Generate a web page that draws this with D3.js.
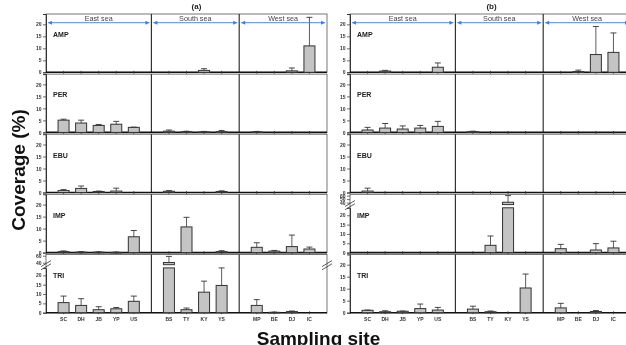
<!DOCTYPE html>
<html><head><meta charset="utf-8">
<script src="https://cdn.jsdelivr.net/npm/d3@7"></script>
<style>body{margin:0;background:#fff}svg{display:block;will-change:transform}text{font-family:"Liberation Sans",Arial,sans-serif}</style>
</head><body><div id="chart"></div>
<script>
// ---------------- DATA ----------------
const eastSites  = ["SC","DH","JB","YP","US"];
const southSites = ["BS","TY","KY","YS"];
const westSites  = ["MP","BE","DJ","IC"];
const regionNames = ["East sea","South sea","West sea"];
const taxa = ["AMP","PER","EBU","IMP","TRI"];
const yTicks = [0,5,10,15,20];
const brokenUpperTicksA = [40,60];
const brokenUpperTicksB = [40,50,60];

// panel (a) means / SD  (order: SC DH JB YP US | BS TY KY YS | MP BE DJ IC)
const ampA = [0,0,0,0,0, 0,0,0.8,0, 0,0,0.6,11.0];
const ampAsd = [0,0,0,0,0, 0,0,0.7,0, 0,0,1.2,11.9];
const perA = [5.1,3.9,2.9,3.4,2.1, 0.5,0.3,0.2,0.3, 0.2,0,0,0];
const perAsd = [0.4,1.2,0.4,1.2,0.1, 0.5,0.2,0.2,0.5, 0.2,0,0,0];
const ebuA = [0.8,1.7,0.4,0.6,0, 0.5,0,0,0.4, 0,0,0,0];
const ebuAsd = [0.4,1.0,0.2,1.2,0, 0.3,0,0,0.3, 0,0,0,0];
const impA = [0.4,0.2,0.2,0.1,6.6, 0,10.7,0,0.4, 2.2,0.6,2.5,1.5];
const impAsd = [0.3,0.2,0.1,0.1,2.6, 0,4.0,0,0.4, 1.9,0.3,4.8,0.8];
const triA = [5.4,3.9,1.6,2.1,6.1, 40.5,1.6,11.0,14.6, 3.9,0.2,0.6,0];
const triAsd = [3.5,3.6,1.6,0.7,2.8, 17.5,0.9,5.9,9.4, 3.1,0.1,0.3,0];

// panel (b)
const ampB = [0,0.5,0,0,2.1, 0,0,0,0, 0,0.3,7.4,8.3];
const ampBsd = [0,0.3,0,0,1.8, 0,0,0,0, 0,0.6,11.7,8.1];
const perB = [1.0,1.8,1.4,1.8,2.5, 0.3,0,0,0, 0,0,0,0];
const perBsd = [1.1,1.9,1.3,1.1,2.1, 0.2,0,0,0, 0,0,0,0];
const ebuB = [0.6,0,0,0,0, 0,0,0,0, 0,0,0,0];
const ebuBsd = [1.2,0,0,0,0, 0,0,0,0, 0,0,0,0];
const impB = [0,0,0,0,0, 0,3.9,41,0, 2.1,0,1.4,2.5];
const impBsd = [0,0,0,0,0, 0,5.0,19,0, 2.3,0,3.4,3.6];
const triB = [1.0,0.4,0.6,1.7,1.1, 1.5,0.4,0,10.3, 2.0,0,0.5,0];
const triBsd = [0.1,0.4,0.1,1.9,1.1, 1.2,0.3,0,5.8, 1.9,0,0.4,0];

// ---------------- LAYOUT ----------------
const W = 626, H = 345;
const svg = d3.select("#chart").append("svg").attr("width", W).attr("height", H);

const regions = [eastSites, southSites, westSites];
const sitePos = [], siteNames = [], dividers = [];
let p = 0;
regions.forEach((r, ri) => {
  r.forEach(s => { p++; sitePos.push(p); siteNames.push(s); });
  p++;
  dividers.push(p);
});
const xMax = p; // 16

const panels = [
  {label:"(a)", x0:46, x1:327, titleX:196.5, broken:"TRI", upperTicks:brokenUpperTicksA,
   series:{AMP:[ampA,ampAsd],PER:[perA,perAsd],EBU:[ebuA,ebuAsd],IMP:[impA,impAsd],TRI:[triA,triAsd]}},
  {label:"(b)", x0:350, x1:631, titleX:491.5, broken:"IMP", upperTicks:brokenUpperTicksB,
   series:{AMP:[ampB,ampBsd],PER:[perB,perBsd],EBU:[ebuB,ebuBsd],IMP:[impB,impBsd],TRI:[triB,triBsd]}}
];

const top0 = 14, rowPitch = 60.1, rowH = 58.3;
const barW = 11, capW = 6;
const blue = "#3d7fd8";

const defs = svg.append("defs");
defs.append("marker").attr("id","arrE").attr("viewBox","0 0 10 10").attr("refX",10).attr("refY",5)
  .attr("markerWidth",5).attr("markerHeight",4).attr("markerUnits","userSpaceOnUse").attr("orient","auto")
  .append("path").attr("d","M0,0L10,5L0,10z").attr("fill",blue);
defs.append("marker").attr("id","arrS").attr("viewBox","0 0 10 10").attr("refX",0).attr("refY",5)
  .attr("markerWidth",5).attr("markerHeight",4).attr("markerUnits","userSpaceOnUse").attr("orient","auto")
  .append("path").attr("d","M10,0L0,5L10,10z").attr("fill",blue);

panels.forEach(pn => {
  const g = svg.append("g");
  const x = d3.scaleLinear().domain([0, xMax]).range([pn.x0, pn.x1]);

  g.append("text").attr("x", pn.titleX).attr("y", 8.5).attr("text-anchor","middle")
    .attr("font-size", 8).attr("font-weight","bold").attr("fill","#222").text(pn.label);

  taxa.forEach((t, i) => {
    const top = top0 + i * rowPitch, bottom = top + rowH;
    const rg = g.append("g");
    const broken = (t === pn.broken);
    let yLow, yUp = null;
    if (broken) {
      yLow = d3.scaleLinear().domain([0,24]).range([bottom, bottom - 44.8]);
      yUp = d3.scaleLinear().domain([40,60]).range([bottom - 50, bottom - 57]);
    } else {
      yLow = d3.scaleLinear().domain([0, rowH/2.4]).range([bottom, top]);
    }
    rg.append("rect").attr("x", pn.x0).attr("y", top).attr("width", pn.x1 - pn.x0).attr("height", rowH)
      .attr("fill","none").attr("stroke","#555").attr("stroke-width",0.8);
    dividers.slice(0, -1).forEach(d => {
      rg.append("line").attr("x1", x(d)).attr("x2", x(d)).attr("y1", top).attr("y2", bottom)
        .attr("stroke","#222").attr("stroke-width",1.1);
    });
    const ax = rg.append("g").attr("transform", `translate(${pn.x0},0)`)
      .call(d3.axisLeft(yLow).tickValues(yTicks).tickSize(3).tickPadding(1.5));
    ax.select(".domain").attr("stroke","#333").attr("stroke-width",1);
    ax.selectAll(".tick line").attr("stroke","#333").attr("stroke-width",0.7);
    ax.selectAll("text").attr("font-size",5).attr("font-weight","bold").attr("fill","#333")
      .attr("font-family","Liberation Sans, Arial, sans-serif");
    if (broken) {
      const ax2 = rg.append("g").attr("transform", `translate(${pn.x0},0)`)
        .call(d3.axisLeft(yUp).tickValues(pn.upperTicks).tickSize(3).tickPadding(1.5));
      ax2.select(".domain").remove();
      ax2.selectAll(".tick line").attr("stroke","#333").attr("stroke-width",0.7);
      ax2.selectAll("text").attr("font-size",5).attr("font-weight","bold").attr("fill","#333")
        .attr("font-family","Liberation Sans, Arial, sans-serif");
      const yb = bottom - 47.5;
      [pn.x0, pn.x1].forEach(xx => {
        [-1.6, 1.6].forEach(o => {
          rg.append("line").attr("x1", xx - 5).attr("x2", xx + 5)
            .attr("y1", yb + o + 3).attr("y2", yb + o - 3)
            .attr("stroke","#333").attr("stroke-width",0.8);
        });
      });
    }
    rg.append("line").attr("x1", pn.x0).attr("x2", pn.x1).attr("y1", bottom).attr("y2", bottom)
      .attr("stroke","#111").attr("stroke-width",1.6);
    sitePos.forEach(sp => {
      rg.append("line").attr("x1", x(sp)).attr("x2", x(sp)).attr("y1", bottom - 1.5).attr("y2", bottom + 1.5)
        .attr("stroke","#333").attr("stroke-width",0.8);
    });
    rg.append("text").attr("x", pn.x0 + 7).attr("y", top + 23.3).attr("font-size",7)
      .attr("font-weight","bold").attr("fill","#222").text(t);

    const [vals, sds] = pn.series[t];
    vals.forEach((v, k) => {
      const sd = sds[k];
      if (v <= 0 && sd <= 0) return;
      const cx = x(sitePos[k]);
      let yTopBar, yErr;
      if (broken && v > 24) {
        rg.append("rect").attr("x", cx - barW/2).attr("y", yLow(24)).attr("width", barW)
          .attr("height", bottom - yLow(24)).attr("fill","#c4c4c4").attr("stroke","#333").attr("stroke-width",1);
        const yb0 = yUp(40) + 2;
        rg.append("rect").attr("x", cx - barW/2).attr("y", yUp(v)).attr("width", barW)
          .attr("height", yb0 - yUp(v)).attr("fill","#c4c4c4").attr("stroke","#333").attr("stroke-width",1);
        yTopBar = yUp(v); yErr = yUp(v + sd);
      } else {
        yTopBar = yLow(v);
        const ev = v + sd;
        yErr = (broken && ev > 24) ? yLow(24) : yLow(ev);
        rg.append("rect").attr("x", cx - barW/2).attr("y", yTopBar).attr("width", barW)
          .attr("height", Math.max(0.6, bottom - yTopBar)).attr("fill","#c4c4c4").attr("stroke","#333").attr("stroke-width",1);
      }
      if (sd > 0) {
        rg.append("line").attr("x1", cx).attr("x2", cx).attr("y1", yTopBar).attr("y2", yErr)
          .attr("stroke","#333").attr("stroke-width",0.8);
        rg.append("line").attr("x1", cx - capW/2).attr("x2", cx + capW/2).attr("y1", yErr).attr("y2", yErr)
          .attr("stroke","#333").attr("stroke-width",0.9);
      }
    });

    if (i === taxa.length - 1) {
      siteNames.forEach((s, k) => {
        rg.append("text").attr("x", x(sitePos[k])).attr("y", bottom + 8.3).attr("text-anchor","middle")
          .attr("font-size",5).attr("font-weight","bold").attr("fill","#333").text(s);
      });
    }
  });

  let start = 0;
  dividers.forEach((d, ri) => {
    const a = x(start) + 2, b = x(d) - 2;
    g.append("line").attr("x1", a).attr("x2", b).attr("y1", top0 + 8.7).attr("y2", top0 + 8.7)
      .attr("stroke", blue).attr("stroke-width",0.9)
      .attr("marker-start","url(#arrS)").attr("marker-end","url(#arrE)");
    g.append("text").attr("x", (x(start) + x(d)) / 2).attr("y", top0 + 7.2).attr("text-anchor","middle")
      .attr("font-size",7.2).attr("fill","#444").text(regionNames[ri]);
    start = d;
  });
});

svg.append("text").attr("transform","translate(24.5,170) rotate(-90)").attr("text-anchor","middle")
  .attr("font-size",19).attr("font-weight","bold").attr("fill","#111").text("Coverage (%)");
svg.append("text").attr("x",318.5).attr("y",344.5).attr("text-anchor","middle")
  .attr("font-size",19).attr("font-weight","bold").attr("fill","#111").text("Sampling site");
</script></body></html>
